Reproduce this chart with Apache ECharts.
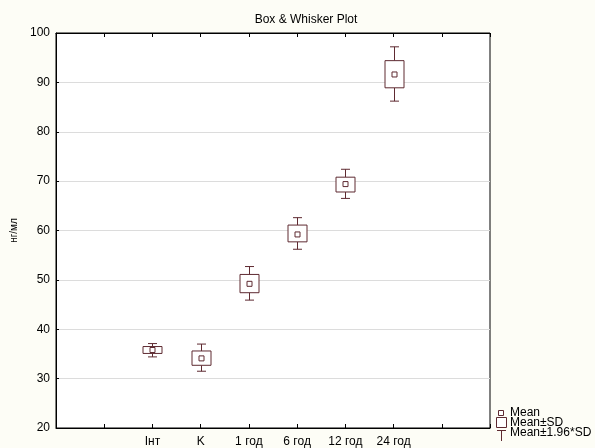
<!DOCTYPE html>
<html><head><meta charset="utf-8">
<script src="https://cdn.jsdelivr.net/npm/echarts@6/dist/echarts.min.js"></script>
<style>html,body{margin:0;padding:0;background:#fdfdf6;}#c{width:595px;height:448px;}</style>
</head><body><div id="c"></div>
<script>
const categories = ['Інт', 'K', '1 год', '6 год', '12 год', '24 год'];
const means      = [35.8, 34.1, 49.2, 59.2, 69.4, 91.6];
const sdLow      = [35.1, 32.7, 47.4, 57.7, 67.8, 88.9];
const sdHigh     = [36.5, 35.6, 51.1, 61.1, 70.8, 94.4];
const ciLow      = [34.4, 31.5, 45.9, 56.2, 66.5, 86.2];
const ciHigh     = [37.1, 37.0, 52.7, 62.6, 72.4, 97.2];
const yTicks = [20, 30, 40, 50, 60, 70, 80, 90, 100];

const COL = '#5e2a31';
const FONT = 'Liberation Sans, Arial';
const firstPos = 2;
const data = categories.map((c, i) => [i + firstPos, means[i], sdLow[i], sdHigh[i], ciLow[i], ciHigh[i]]);

function renderItem(params, api) {
  const x = api.value(0);
  const pM = api.coord([x, api.value(1)]);
  const pSL = api.coord([x, api.value(2)]);
  const pSH = api.coord([x, api.value(3)]);
  const pWL = api.coord([x, api.value(4)]);
  const pWH = api.coord([x, api.value(5)]);
  const bw = 19, cw = 9, ms = 5;
  const cx = Math.round(pM[0]) + 0.5;
  const st = {stroke: COL, lineWidth: 1, fill: null};
  return {
    type: 'group',
    children: [
      {type: 'line', shape: {x1: cx, y1: pSH[1], x2: cx, y2: pWH[1]}, style: st},
      {type: 'line', shape: {x1: cx, y1: pSL[1], x2: cx, y2: pWL[1]}, style: st},
      {type: 'line', shape: {x1: cx - cw / 2, y1: pWH[1], x2: cx + cw / 2, y2: pWH[1]}, style: st},
      {type: 'line', shape: {x1: cx - cw / 2, y1: pWL[1], x2: cx + cw / 2, y2: pWL[1]}, style: st},
      {type: 'rect', shape: {x: cx - bw / 2, y: pSH[1], width: bw, height: pSL[1] - pSH[1]}, style: {stroke: COL, lineWidth: 1, fill: '#fff'}},
      {type: 'rect', shape: {x: cx - ms / 2, y: pM[1] - ms / 2, width: ms, height: ms}, style: {stroke: COL, lineWidth: 1, fill: '#fff'}}
    ]
  };
}

const chart = echarts.init(document.getElementById('c'), null, {renderer: 'canvas'});
chart.setOption({
  backgroundColor: '#fdfdf6',
  animation: false,
  title: {text: 'Box & Whisker Plot', left: 301, textAlign: 'center', top: 9,
    textStyle: {fontFamily: FONT, fontSize: 12, fontWeight: 'normal', color: '#000'}},
  grid: {left: 56, right: 105, top: 33, bottom: 19, show: true, backgroundColor: '#fff', borderColor: '#000', borderWidth: 1},
  xAxis: [{
    type: 'value', min: 0, max: 9, interval: 1, position: 'bottom',
    axisLine: {lineStyle: {color: '#000'}},
    axisTick: {inside: true, length: 4, lineStyle: {color: '#000'}},
    splitLine: {show: false},
    axisLabel: {fontFamily: FONT, fontSize: 12, color: '#000', margin: 8,
      formatter: v => categories[v - firstPos] || ''}
  }, {
    type: 'value', min: 0, max: 9, interval: 1, position: 'top',
    axisLine: {lineStyle: {color: '#000'}},
    axisTick: {inside: true, length: 4, lineStyle: {color: '#000'}},
    splitLine: {show: false}, axisLabel: {show: false}
  }],
  yAxis: {
    type: 'value', min: yTicks[0], max: yTicks[yTicks.length - 1], interval: 10,
    name: 'нг/мл', nameLocation: 'middle', nameGap: 36,
    nameTextStyle: {fontFamily: FONT, fontSize: 10, color: '#000'},
    axisLine: {lineStyle: {color: '#000'}},
    axisTick: {inside: true, length: 3, lineStyle: {color: '#000'}},
    splitLine: {lineStyle: {color: '#dcdcdc'}},
    axisLabel: {fontFamily: FONT, fontSize: 12, color: '#000', margin: 6}
  },
  series: [{
    type: 'custom', renderItem: renderItem, data: data,
    encode: {x: 0, y: [1, 2, 3, 4, 5]}, clip: false
  }],
  graphic: [
    {type: 'rect', shape: {x: 498.5, y: 410.5, width: 5, height: 5}, style: {stroke: COL, fill: '#fff', lineWidth: 1}},
    {type: 'text', x: 510, y: 413, style: {text: 'Mean', fontFamily: FONT, fontSize: 12, fill: '#000', verticalAlign: 'middle'}},
    {type: 'rect', shape: {x: 496.5, y: 417.5, width: 10, height: 10}, style: {stroke: COL, fill: '#fff', lineWidth: 1}},
    {type: 'text', x: 510, y: 423, style: {text: 'Mean±SD', fontFamily: FONT, fontSize: 12, fill: '#000', verticalAlign: 'middle'}},
    {type: 'line', shape: {x1: 497, y1: 430.5, x2: 506, y2: 430.5}, style: {stroke: COL, lineWidth: 1}},
    {type: 'line', shape: {x1: 501.5, y1: 430.5, x2: 501.5, y2: 441}, style: {stroke: COL, lineWidth: 1}},
    {type: 'text', x: 510, y: 433, style: {text: 'Mean±1.96*SD', fontFamily: FONT, fontSize: 12, fill: '#000', verticalAlign: 'middle'}}
  ]
});
</script></body></html>
